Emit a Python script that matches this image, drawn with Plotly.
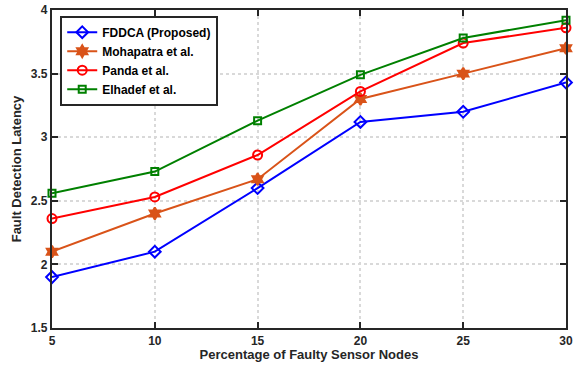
import plotly.graph_objects as go

# Percentage of faulty sensor nodes
faulty_pct = [5, 10, 15, 20, 25, 30]

# Fault detection latency per scheme
fddca = [1.90, 2.10, 2.60, 3.12, 3.20, 3.43]
mohapatra = [2.10, 2.40, 2.67, 3.30, 3.50, 3.70]
panda = [2.36, 2.53, 2.86, 3.36, 3.74, 3.86]
elhadef = [2.56, 2.73, 3.13, 3.49, 3.78, 3.92]

series_names = ["FDDCA (Proposed)", "Mohapatra et al.", "Panda et al.", "Elhadef et al."]
series_values = [fddca, mohapatra, panda, elhadef]
series_colors = ["#0000FF", "#D95319", "#FF0000", "#008000"]
series_symbols = ["diamond-open", "hexagram", "circle-open", "square-open"]
series_sizes = [9, 9, 9, 7]

x_ticks = [5, 10, 15, 20, 25, 30]
y_ticks = [1.5, 2, 2.5, 3, 3.5, 4]

FONT = "Liberation Sans"
INK = "#262626"

fig = go.Figure()
for name, vals, col, sym, sz in zip(series_names, series_values, series_colors,
                                    series_symbols, series_sizes):
    fig.add_trace(go.Scatter(
        x=faulty_pct, y=vals, name=f"<b>{name}</b>", mode="lines+markers",
        line=dict(color=col, width=2),
        marker=dict(symbol=sym, size=sz, color=col,
                    line=dict(color=col, width=2)),
        cliponaxis=False,
    ))

axis_common = dict(
    showline=True, linecolor=INK, linewidth=2.2, mirror="allticks",
    ticks="inside", ticklen=6, tickwidth=2.2, tickcolor=INK,
    showgrid=True, gridcolor="#D9D9D9", griddash="dot", gridwidth=1.5,
    zeroline=False, ticklabeloverflow="allow",
    tickfont=dict(family=FONT, size=12, color=INK),
)

fig.update_xaxes(
    range=[5, 30], tickvals=x_ticks, ticktext=[f"<b>{v}</b>" for v in x_ticks],
    title=dict(text="<b>Percentage of Faulty Sensor Nodes</b>",
               font=dict(family=FONT, size=13, color=INK), standoff=3),
    **axis_common,
)
fig.update_yaxes(
    range=[1.5, 4], tickvals=y_ticks, ticktext=[f"<b>{v:g}</b>" for v in y_ticks],
    title=dict(text="<b>Fault Detection Latency</b>",
               font=dict(family=FONT, size=13, color=INK), standoff=6),
    **axis_common,
)

fig.update_layout(
    width=576, height=369,
    margin=dict(l=52, r=3, t=9, b=41),
    plot_bgcolor="white", paper_bgcolor="white",
    showlegend=True,
    legend=dict(
        x=0.016, y=0.982, xanchor="left", yanchor="top",
        bgcolor="white", bordercolor=INK, borderwidth=2,
        font=dict(family=FONT, size=12, color="black"),
        tracegroupgap=0,
    ),
)

fig.write_html("out.html")
